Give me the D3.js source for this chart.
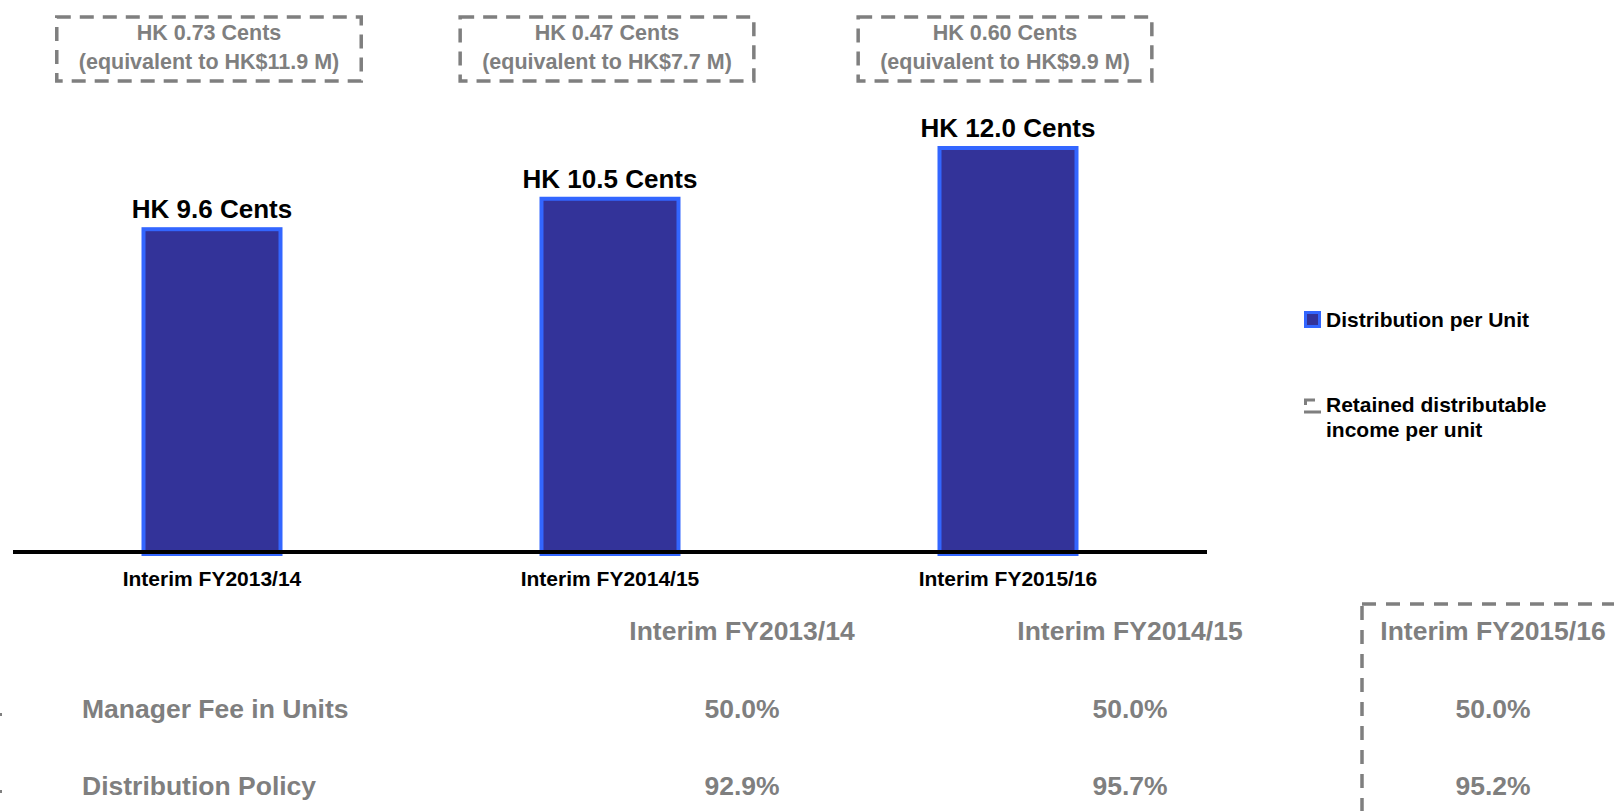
<!DOCTYPE html>
<html>
<head>
<meta charset="utf-8">
<script src="https://cdn.jsdelivr.net/npm/d3@7"></script>
<style>
  body { margin: 0; background: #fff; }
  svg { display: block; font-family: "Liberation Sans", Arial, sans-serif; font-weight: bold; }
</style>
</head>
<body>
<svg id="chart" width="1614" height="811"></svg>
<script>
// data
var categories = ["Interim FY2013/14", "Interim FY2014/15", "Interim FY2015/16"];
var dpu = [9.6, 10.5, 12.0];
var retainedCents = [0.73, 0.47, 0.60];
var retainedAmount = [11.9, 7.7, 9.9];
var rowLabels = ["Manager Fee in Units", "Distribution Policy"];
var managerFee = [50.0, 50.0, 50.0];
var distPolicy = [92.9, 95.7, 95.2];

var grey = "#7f7f7f";
var svg = d3.select("#chart");

// scales
var x = d3.scalePoint().domain(categories).range([13, 1207]).padding(0.5);
var y = d3.scaleLinear().domain([0, 12]).range([552, 146]);
var barW = 137;

// bars
svg.selectAll("rect.bar")
  .data(dpu)
  .enter()
  .append("rect")
  .attr("class", "bar")
  .attr("x", (d, i) => x(categories[i]) - barW / 2)
  .attr("y", d => y(d) + 2)
  .attr("width", barW)
  .attr("height", d => y(0) - y(d))
  .attr("fill", "#333399")
  .attr("stroke", "#3366ff")
  .attr("stroke-width", 4);

// value labels
svg.selectAll("text.val")
  .data(dpu)
  .enter()
  .append("text")
  .attr("x", (d, i) => x(categories[i]))
  .attr("y", d => y(d) - 9)
  .attr("text-anchor", "middle")
  .attr("font-size", 26)
  .attr("fill", "#000")
  .text(d => "HK " + d.toFixed(1) + " Cents");

// x axis line + category labels
svg.append("line")
  .attr("x1", 13).attr("x2", 1207)
  .attr("y1", y(0)).attr("y2", y(0))
  .attr("stroke", "#000").attr("stroke-width", 4);

svg.selectAll("text.cat")
  .data(categories)
  .enter()
  .append("text")
  .attr("x", d => x(d))
  .attr("y", 586)
  .attr("text-anchor", "middle")
  .attr("font-size", 21)
  .attr("fill", "#000")
  .text(d => d);

// retained income dashed boxes
var boxes = svg.selectAll("g.ret")
  .data(retainedCents)
  .enter()
  .append("g")
  .attr("class", "ret");

boxes.append("text")
  .attr("x", (d, i) => x(categories[i]) - 3)
  .attr("y", 40)
  .attr("text-anchor", "middle")
  .attr("font-size", 21.5)
  .attr("fill", grey)
  .text(d => "HK " + d.toFixed(2) + " Cents");

boxes.append("text")
  .attr("class", "amt")
  .attr("x", (d, i) => x(categories[i]) - 3)
  .attr("y", 69)
  .attr("text-anchor", "middle")
  .attr("font-size", 21.5)
  .attr("fill", grey)
  .text((d, i) => "(equivalent to HK$" + retainedAmount[i].toFixed(1) + " M)");

boxes.each(function () {
  var g = d3.select(this);
  var bb = g.select("text.amt").node().getBBox();
  g.insert("rect", ":first-child")
    .attr("x", bb.x - 22)
    .attr("y", 17)
    .attr("width", bb.width + 44)
    .attr("height", 64)
    .attr("fill", "none")
    .attr("stroke", grey)
    .attr("stroke-width", 3.5)
    .attr("stroke-dasharray", "14,9");
});

// legend
var legend = svg.append("g").attr("transform", "translate(1304,311)");
legend.append("rect")
  .attr("x", 1.5).attr("y", 1.5).attr("width", 14).attr("height", 14)
  .attr("fill", "#333399").attr("stroke", "#3366ff").attr("stroke-width", 3);
legend.append("text")
  .attr("x", 22).attr("y", 16)
  .attr("font-size", 21).attr("fill", "#000")
  .text("Distribution per Unit");

legend.append("path")
  .attr("d", "M0,89H11M1.5,88V94M0,101H17")
  .attr("stroke", grey).attr("stroke-width", 3).attr("fill", "none");
legend.append("text")
  .attr("x", 22).attr("y", 101)
  .attr("font-size", 21).attr("fill", "#000")
  .text("Retained distributable");
legend.append("text")
  .attr("x", 22).attr("y", 126)
  .attr("font-size", 21).attr("fill", "#000")
  .text("income per unit");

// table below
var col = d3.scaleOrdinal().domain(categories).range([742, 1130, 1493]);

svg.append("rect")
  .attr("x", 1362).attr("y", 604)
  .attr("width", 300).attr("height", 260)
  .attr("fill", "none")
  .attr("stroke", grey).attr("stroke-width", 3.5)
  .attr("stroke-dasharray", "14,10");

svg.selectAll("text.head")
  .data(categories)
  .enter()
  .append("text")
  .attr("x", d => col(d))
  .attr("y", 640)
  .attr("text-anchor", "middle")
  .attr("font-size", 26.5)
  .attr("fill", grey)
  .text(d => d);

var rows = [managerFee, distPolicy];
var rowY = [718, 795];

rows.forEach(function (vals, r) {
  svg.append("text")
    .attr("x", 82).attr("y", rowY[r])
    .attr("font-size", 26.5).attr("fill", grey)
    .text(rowLabels[r]);
  svg.append("rect")
    .attr("x", 0).attr("y", rowY[r] - 5)
    .attr("width", 2).attr("height", 3)
    .attr("fill", grey);
  svg.selectAll(null)
    .data(vals)
    .enter()
    .append("text")
    .attr("x", (d, i) => col(categories[i]))
    .attr("y", rowY[r])
    .attr("text-anchor", "middle")
    .attr("font-size", 26.5)
    .attr("fill", grey)
    .text(d => d.toFixed(1) + "%");
});
</script>
</body>
</html>
